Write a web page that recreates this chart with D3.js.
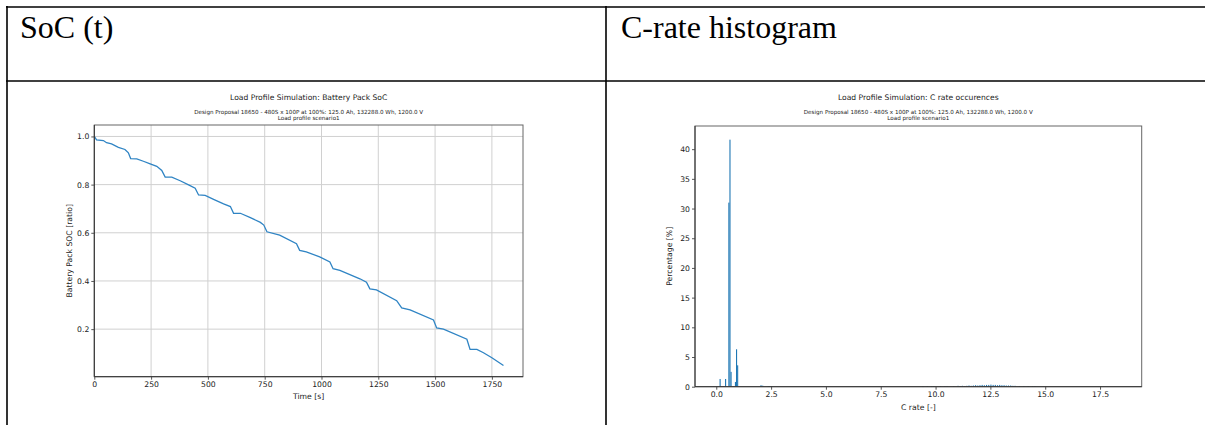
<!DOCTYPE html>
<html>
<head>
<meta charset="utf-8">
<script src="https://cdn.jsdelivr.net/npm/d3@7/dist/d3.min.js"></script>
<style>
  html, body { margin: 0; padding: 0; background: #fff; }
  svg { display: block; }
  text { font-family: "DejaVu Sans", sans-serif; fill: #222; }
  .hdr { font-family: "Liberation Serif", "Times New Roman", serif; font-size: 32px; fill: #000; }
</style>
</head>
<body>
<svg id="c" width="1205" height="425"></svg>
<script>
// ---------- data ----------
const headers = ["SoC (t)", "C-rate histogram"];
const titleSoc = "Load Profile Simulation: Battery Pack SoC";
const titleHist = "Load Profile Simulation: C rate occurences";
const subtitle1 = "Design Proposal 18650 - 480S x 100P at 100%: 125.0 Ah, 132288.0 Wh, 1200.0 V";
const subtitle2 = "Load profile scenario1";

const socTime = [0,10,40,54,76,106,135,150,160,187,216,246,275,297,312,341,378,415,444,459,488,525,569,599,613,643,687,731,746,760,816,890,904,933,992,1037,1051,1081,1169,1198,1213,1242,1331,1353,1390,1493,1507,1537,1640,1654,1684,1713,1750,1801];
const socValue = [1.0,0.986,0.983,0.974,0.969,0.955,0.946,0.932,0.908,0.907,0.897,0.886,0.876,0.859,0.831,0.831,0.816,0.799,0.785,0.757,0.755,0.739,0.72,0.709,0.681,0.681,0.663,0.643,0.632,0.604,0.59,0.555,0.527,0.521,0.5,0.479,0.451,0.444,0.409,0.395,0.367,0.363,0.318,0.288,0.28,0.238,0.205,0.2,0.158,0.116,0.116,0.102,0.081,0.049];
const socXTicks = [0,250,500,750,1000,1250,1500,1750];
const socYTicks = [0.2,0.4,0.6,0.8,1.0];

const binWidth = 0.05;
const binStart = [0.15,0.40,0.55,0.60,0.65,0.85,0.90,0.95,2.00,2.05,2.10,2.35,2.40,2.45,2.50,
  9.40,9.60,9.80,9.90,10.20,10.40,10.50,10.80,11.00,11.10,11.20,11.30,11.40,11.50,11.60,11.70,11.80,11.90,12.00,12.10,12.20,12.30,12.40,12.50,12.60,12.70,12.80,12.90,13.00,13.10,13.20,13.30,13.40,13.50,13.60,13.80,14.00,14.20,14.40,14.50];
const binPct = [1.3,1.3,31.0,41.6,2.5,0.8,6.3,3.6,0.2,0.2,0.15,0.1,0.1,0.1,0.1,
  0.08,0.1,0.08,0.1,0.1,0.1,0.12,0.1,0.15,0.12,0.15,0.12,0.15,0.2,0.15,0.2,0.25,0.2,0.25,0.3,0.25,0.3,0.3,0.35,0.3,0.3,0.25,0.3,0.25,0.25,0.2,0.2,0.2,0.15,0.15,0.12,0.12,0.1,0.1,0.1];
const histXTicks = [0,2.5,5,7.5,10,12.5,15,17.5];
const histYTicks = [0,5,10,15,20,25,30,35,40];

// ---------- layout ----------
const svg = d3.select("#c");
const blue = "#1f77b4";

// table borders
const border = svg.append("g").attr("stroke", "#000").attr("stroke-width", 1.6);
border.append("line").attr("x1", 6).attr("x2", 1205).attr("y1", 7).attr("y2", 7);
border.append("line").attr("x1", 6).attr("x2", 1205).attr("y1", 81).attr("y2", 81);
border.append("line").attr("x1", 7).attr("x2", 7).attr("y1", 6).attr("y2", 425);
border.append("line").attr("x1", 606).attr("x2", 606).attr("y1", 6).attr("y2", 425);

svg.append("text").attr("class", "hdr").attr("x", 20).attr("y", 38).text(headers[0]);
svg.append("text").attr("class", "hdr").attr("x", 621).attr("y", 38).text(headers[1]);

function titles(cx, title) {
  svg.append("text").attr("x", cx).attr("y", 99.5).attr("text-anchor", "middle")
    .style("font-size", "7.6px").text(title);
  svg.append("text").attr("x", cx).attr("y", 113.8).attr("text-anchor", "middle")
    .style("font-size", "5.6px").text(subtitle1);
  svg.append("text").attr("x", cx).attr("y", 120.2).attr("text-anchor", "middle")
    .style("font-size", "5.6px").text(subtitle2);
}

function styleAxis(a) {
  a.select(".domain").remove();
  a.selectAll("text").style("font-size", "7.7px").style("font-family", "DejaVu Sans").attr("fill", "#2a2a2a");
  a.selectAll("line").attr("stroke", "#444").attr("stroke-width", 0.9);
}

// ---------- SoC chart ----------
{
  const L = 94.3, R = 523, T = 125, B = 376.7;
  const x = d3.scaleLinear().domain([0, 1887]).range([L, R]);
  const y = d3.scaleLinear().domain([0.0025, 1.0475]).range([B, T]);
  titles(308.7, titleSoc);

  const g = svg.append("g");
  g.selectAll(".gx").data(socXTicks).enter().append("line")
    .attr("x1", d => x(d)).attr("x2", d => x(d)).attr("y1", T).attr("y2", B)
    .attr("stroke", "#d0d0d0").attr("stroke-width", 1);
  g.selectAll(".gy").data(socYTicks).enter().append("line")
    .attr("x1", L).attr("x2", R).attr("y1", d => y(d)).attr("y2", d => y(d))
    .attr("stroke", "#d0d0d0").attr("stroke-width", 1);

  const pts = socTime.map((t, i) => [t, socValue[i]]);
  g.append("path").datum(pts)
    .attr("d", d3.line().x(d => x(d[0])).y(d => y(d[1])))
    .attr("fill", "none").attr("stroke", "#2f84c4").attr("stroke-width", 1.3);

  const ax = d3.axisBottom(x).tickValues(socXTicks).tickFormat(d3.format("d")).tickSize(3).tickPadding(2);
  const ay = d3.axisLeft(y).tickValues(socYTicks).tickFormat(d3.format(".1f")).tickSize(3).tickPadding(2);
  styleAxis(svg.append("g").attr("transform", `translate(0,${B})`).call(ax));
  styleAxis(svg.append("g").attr("transform", `translate(${L},0)`).call(ay));
  svg.append("rect").attr("x", L).attr("y", T).attr("width", R - L).attr("height", B - T)
    .attr("fill", "none").attr("stroke", "#666").attr("stroke-width", 1);
  svg.append("line").attr("x1", L).attr("x2", L).attr("y1", T).attr("y2", B).attr("stroke", "#333");
  svg.append("line").attr("x1", L).attr("x2", R).attr("y1", B).attr("y2", B).attr("stroke", "#333");
  svg.append("text").attr("x", (L + R) / 2).attr("y", 398.5).attr("text-anchor", "middle")
    .style("font-size", "7.7px").text("Time [s]");
  svg.append("text").attr("transform", `translate(71.5,${(T + B) / 2}) rotate(-90)`)
    .attr("text-anchor", "middle").style("font-size", "7.7px").text("Battery Pack SOC [ratio]");
}

// ---------- Histogram ----------
{
  const L = 695, R = 1141.7, T = 126, B = 386.7;
  const x = d3.scaleLinear().domain([-0.97, 19.4]).range([L, R]);
  const y = d3.scaleLinear().domain([0, 43.9]).range([B, T]);
  titles(918.3, titleHist);

  const bins = binStart.map((s, i) => ({ s, p: binPct[i] }));
  svg.append("g").selectAll("rect").data(bins).enter().append("rect")
    .attr("x", d => x(d.s))
    .attr("width", d => Math.max(1, x(d.s + binWidth) - x(d.s)))
    .attr("y", d => y(d.p))
    .attr("height", d => Math.max(0.8, y(0) - y(d.p)))
    .attr("fill", blue);

  const ax = d3.axisBottom(x).tickValues(histXTicks).tickFormat(d3.format(".1f")).tickSize(3).tickPadding(2);
  const ay = d3.axisLeft(y).tickValues(histYTicks).tickFormat(d3.format("d")).tickSize(3).tickPadding(2);
  styleAxis(svg.append("g").attr("transform", `translate(0,${B})`).call(ax));
  styleAxis(svg.append("g").attr("transform", `translate(${L},0)`).call(ay));
  svg.append("rect").attr("x", L).attr("y", T).attr("width", R - L).attr("height", B - T)
    .attr("fill", "none").attr("stroke", "#666").attr("stroke-width", 1);
  svg.append("line").attr("x1", L).attr("x2", L).attr("y1", T).attr("y2", B).attr("stroke", "#333");
  svg.append("line").attr("x1", L).attr("x2", R).attr("y1", B).attr("y2", B).attr("stroke", "#333");
  svg.append("text").attr("x", (L + R) / 2).attr("y", 410).attr("text-anchor", "middle")
    .style("font-size", "7.7px").text("C rate [-]");
  svg.append("text").attr("transform", `translate(672,${(T + B) / 2}) rotate(-90)`)
    .attr("text-anchor", "middle").style("font-size", "7.7px").text("Percentage [%]");
}
</script>
</body>
</html>
